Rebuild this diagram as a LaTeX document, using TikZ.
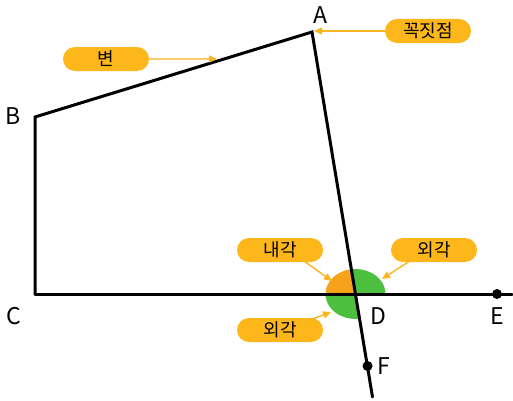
\documentclass[tikz,border=0pt]{standalone}
\usepackage{fontspec}
\setmainfont{Noto Sans CJK KR}
\usetikzlibrary{arrows.meta,shapes.misc}
\definecolor{pillc}{HTML}{FDB71A}
\definecolor{arrc}{HTML}{F9B41E}
\definecolor{orangec}{HTML}{F7A21B}
\definecolor{greenc}{HTML}{4DBF3F}
\tikzset{
  pill/.style={rounded rectangle, fill=pillc, minimum width=86pt, minimum height=24pt, inner sep=0pt, font=\fontsize{18}{18}\selectfont},
  callout/.style={draw=arrc, line width=1.4pt, -{Triangle[width=7pt,length=8pt]}},
  edge/.style={line width=3pt, line cap=round, line join=miter},
  lbl/.style={font=\fontsize{23}{23}\selectfont, inner sep=0pt},
  dot/.style={circle, fill=black, inner sep=0pt, minimum size=10pt}
}
\begin{document}
\begin{tikzpicture}[x=1pt,y=1pt]
\path[use as bounding box] (0,0) rectangle (513,400);
\coordinate (A) at (312,368);
\coordinate (B) at (35,283);
\coordinate (C) at (35,106);
\coordinate (D) at (355.5,106);
\coordinate (Eend) at (512,106);
\coordinate (Fend) at (372.5,3);
% angle sectors
\fill[orangec] (D) -- ++(97.9:30 and 25) arc[start angle=97.9, end angle=180, x radius=30, y radius=25] -- cycle;
\fill[greenc] (D) -- ++(0:30) arc[start angle=0, end angle=97.9, x radius=30, y radius=25] -- cycle;
\fill[greenc] (D) -- ++(-30,0) arc[start angle=180, end angle=277.9, x radius=30, y radius=25] -- cycle;
% figure
\draw[edge] (C) -- (B) -- (A) -- (Fend);
\draw[edge] (C) -- (Eend);
\node[dot] (E) at (497,106) {};
\node[dot] (F) at (367.5,34) {};
% letters
\node[lbl] (la) at (320,385) {A};
\node[lbl] (lb) at (13,284) {B};
\node[lbl] (lc) at (14,84) {C};
\node[lbl] (ld) at (378,84) {D};
\node[lbl] (le) at (497,84) {E};
\node[lbl] (lf) at (384,34) {F};
% callouts
\node[pill] (p1) at (106,341) {변};
\coordinate (t1) at (217,341);
\draw[callout] (p1) -- (t1);
\node[pill] (p2) at (428,369) {꼭짓점};
\coordinate (t2) at (314,369);
\draw[callout] (p2) -- (t2);
\node[pill] (p3) at (280,150) {내각};
\coordinate (t3) at (332,119);
\draw[callout] (p3.south east) ++(-8,2) coordinate (s3) (s3) -- (t3);
\node[pill] (p4) at (434,150) {외각};
\coordinate (t4) at (382,121);
\draw[callout] (p4.south west) ++(8,2) coordinate (s4) (s4) -- (t4);
\node[pill] (p5) at (280,70) {외각};
\coordinate (t5) at (331,88);
\draw[callout] (p5.north east) ++(-6,-4) coordinate (s5) (s5) -- (t5);
\end{tikzpicture}
\end{document}
